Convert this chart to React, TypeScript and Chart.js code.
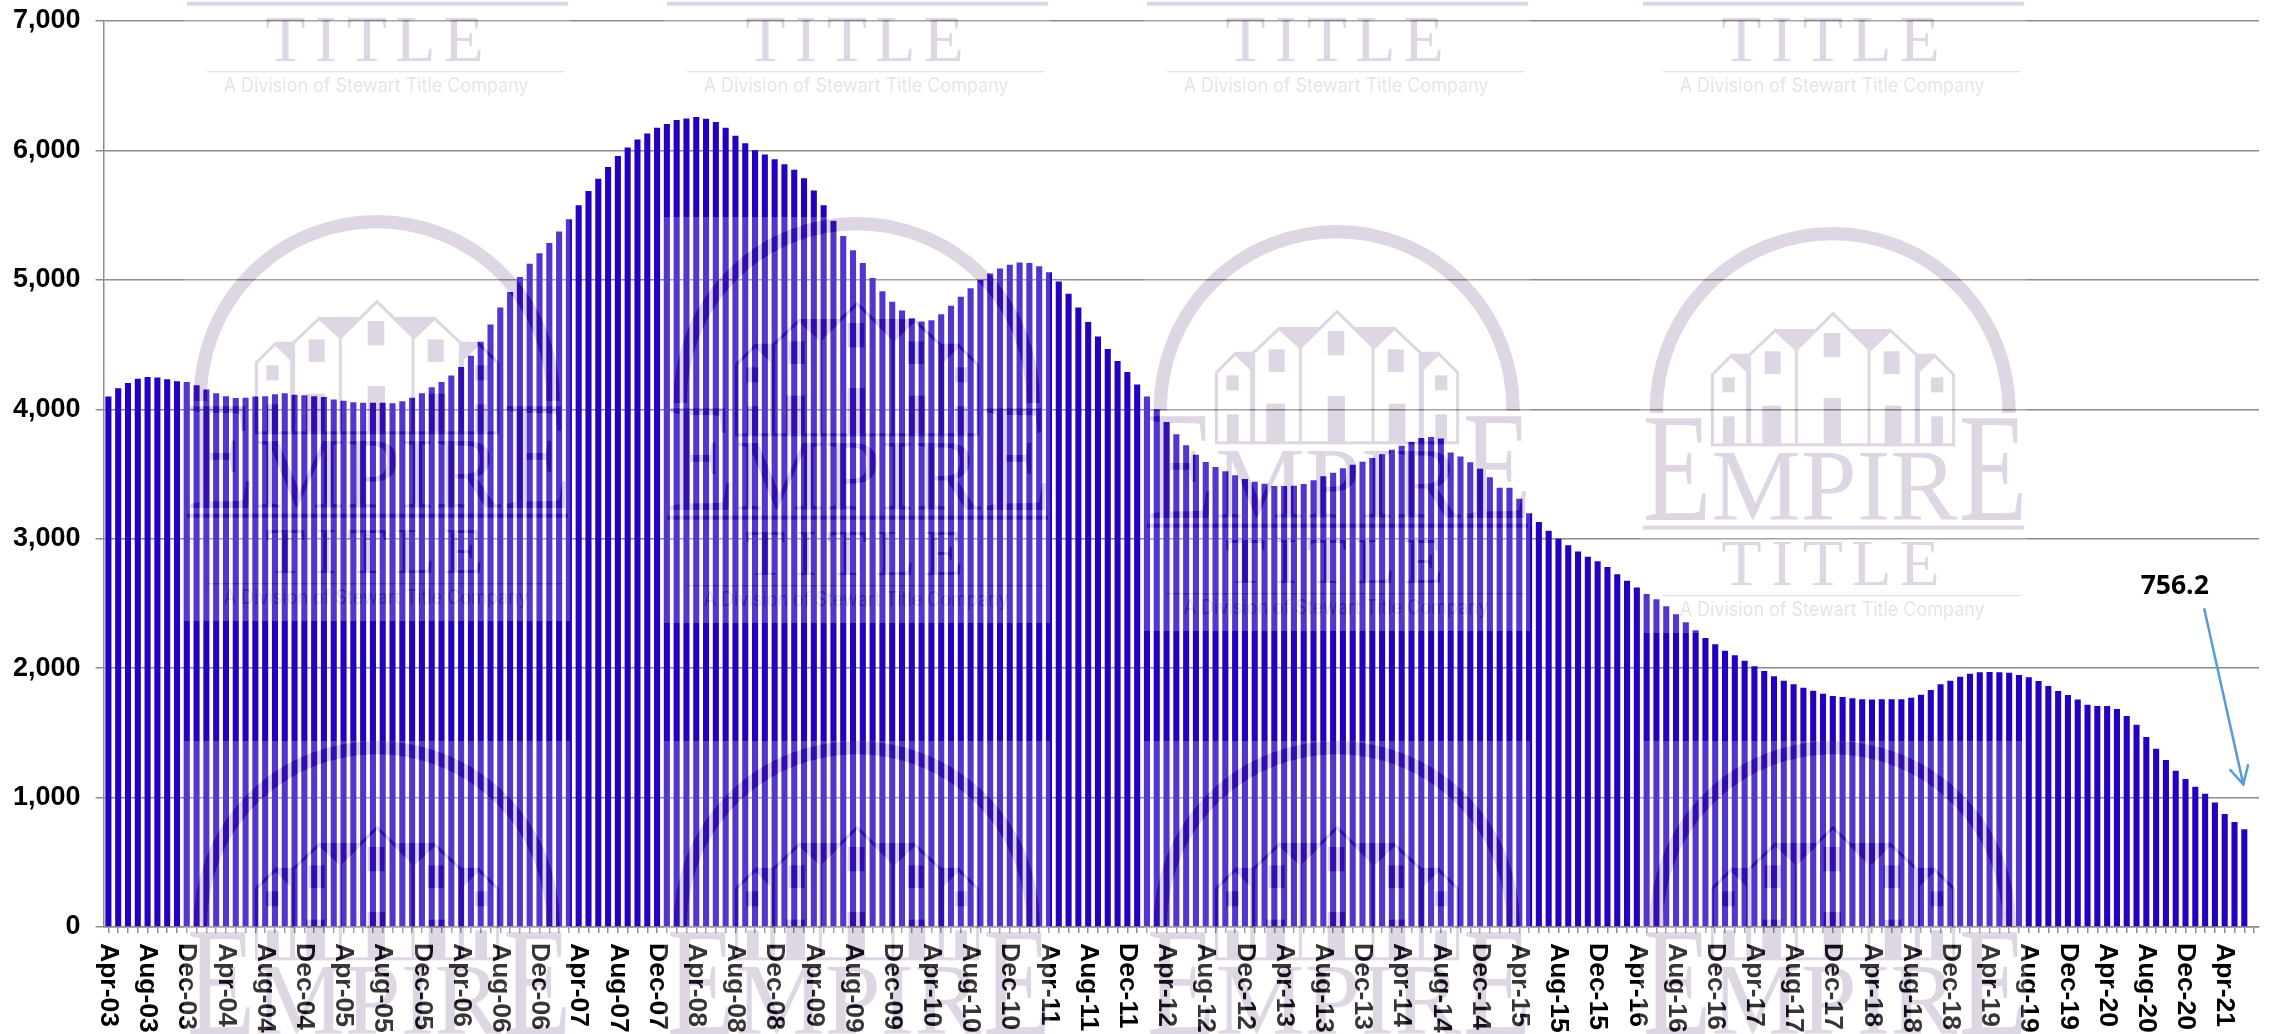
import React, { useEffect, useRef } from "react";
import { Chart, registerables } from "chart.js";

Chart.register(...registerables);

const MONTHS = ["Jan", "Feb", "Mar", "Apr", "May", "Jun", "Jul", "Aug", "Sep", "Oct", "Nov", "Dec"];
const FIRST_YEAR = 2003;
const FIRST_MONTH = 3;
const CATEGORY_COUNT = 220;

const categories: string[] = [];
for (let i = 0; i < CATEGORY_COUNT; i++) {
  const m = FIRST_MONTH + i;
  const yy = (FIRST_YEAR + Math.floor(m / 12)) % 100;
  categories.push(`${MONTHS[m % 12]}-${String(yy).padStart(2, "0")}`);
}

const labelledMonths = ["Apr", "Aug", "Dec"];

const values2003to2008 = [
  4098, 4163, 4203, 4235, 4250, 4246, 4232, 4217, 4210, 4185,
  4152, 4123, 4101, 4087, 4090, 4098, 4101, 4116, 4123, 4112,
  4109, 4101, 4094, 4076, 4065, 4054, 4051, 4051, 4051, 4047,
  4062, 4090, 4123, 4170, 4210, 4261, 4326, 4413, 4522, 4656,
  4786, 4907, 5023, 5124, 5206, 5284, 5374, 5469, 5577, 5686,
  5781, 5871, 5956, 6023, 6085, 6131, 6175, 6204, 6235, 6246,
  6259,
];
const values2008to2014 = [
  6244, 6220, 6176, 6114, 6056, 6001, 5968, 5932, 5894, 5851,
  5786, 5691, 5577, 5456, 5338, 5229, 5131, 5015, 4912, 4830,
  4763, 4704, 4678, 4688, 4735, 4799, 4869, 4936, 4998, 5049,
  5088, 5116, 5134, 5131, 5106, 5059, 4987, 4892, 4786, 4675,
  4562, 4466, 4374, 4289, 4191, 4098, 4000, 3902, 3807, 3722,
  3649, 3593, 3554, 3521, 3490, 3461, 3441, 3425, 3407, 3407,
  3410, 3423, 3451, 3482, 3510, 3544, 3572, 3595, 3624, 3652,
  3688, 3719, 3747, 3778, 3786, 3775, 3667, 3636, 3590, 3541,
  3474,
];
const values2015to2021 = [
  3394, 3394, 3309, 3196, 3130, 3062, 3000, 2949, 2902, 2861,
  2825, 2782, 2725, 2676, 2624, 2573, 2532, 2478, 2416, 2354,
  2292, 2233, 2184, 2135, 2099, 2058, 2014, 1978, 1937, 1903,
  1875, 1849, 1826, 1803, 1785, 1777, 1767, 1759, 1757, 1759,
  1759, 1759, 1772, 1795, 1831, 1875, 1903, 1934, 1957, 1968,
  1970, 1968, 1965, 1947, 1929, 1900, 1862, 1823, 1792, 1757,
  1718, 1707, 1707, 1684, 1630, 1563, 1468, 1378, 1290, 1208,
  1143, 1084, 1030, 961, 873, 811, 756.2,
];
const values = [...values2003to2008, ...values2008to2014, ...values2015to2021];

const yTicks = { min: 0, max: 7000, step: 1000 };

// Annotation anchored in data space: [category index, value]
const arrowFrom = [213.9, 2462];
const arrowTip = [217.9, 1102];
const arrowLegA = [216.5, 1219];
const arrowLegB = [218.4, 1257];
const calloutAt = [210.9, 2632];
const calloutText = "756.2";

// Watermark tile placement
const tileColumns = [
  { cx: 377, rows: [-297, 215, 741] },
  { cx: 857, rows: [-297, 217, 741] },
  { cx: 1337, rows: [-297, 225, 741] },
  { cx: 1833, rows: [-297, 227, 741] },
];
const TILE_W = 386;
const TILE_H = 406;
const TILE_ALPHA = 0.21;
const LOGO = "#693E81";
const LOGO_TEXT = "#808080";

function polyline(c: CanvasRenderingContext2D, pts: number[][], fill = false) {
  c.beginPath();
  pts.forEach(([x, y], i) => (i ? c.lineTo(x, y) : c.moveTo(x, y)));
  if (fill) {
    c.closePath();
    c.fill();
  } else c.stroke();
}

function buildTile(): HTMLCanvasElement {
  const off = document.createElement("canvas");
  off.width = TILE_W;
  off.height = TILE_H;
  const c = off.getContext("2d") as CanvasRenderingContext2D;
  c.fillStyle = "#fff";
  c.fillRect(0, 0, TILE_W, TILE_H);
  c.scale(1 / 3, 1 / 3);
  c.translate(579 - 640, -82);
  c.fillStyle = LOGO;
  c.strokeStyle = LOGO;

  // Arch
  c.lineWidth = 40;
  c.beginPath();
  c.arc(639, 631, 529, Math.PI, 2 * Math.PI);
  c.stroke();
  c.fillRect(90, 631, 40, 9);
  c.fillRect(1148, 631, 40, 9);

  // Houses
  c.lineWidth = 9;
  c.lineJoin = "miter";
  polyline(c, [[278, 735], [278, 525], [335, 468], [384, 515], [384, 735]]);
  polyline(c, [[390, 735], [390, 465], [467, 392], [530, 450], [530, 735]]);
  polyline(c, [[530, 450], [640, 342], [748, 448], [748, 735]]);
  polyline(c, [[752, 450], [812, 392], [890, 465], [890, 735]]);
  polyline(c, [[896, 735], [896, 515], [945, 468], [1002, 525], [1002, 735]]);
  c.fillRect(274, 731, 732, 9);
  polyline(c, [[335, 462], [392, 462], [384, 515]], true);
  polyline(c, [[465, 388], [590, 388], [530, 448]], true);
  polyline(c, [[690, 388], [815, 388], [750, 448]], true);
  polyline(c, [[890, 462], [948, 462], [896, 515]], true);
  // Windows
  c.fillRect(612, 400, 50, 73);
  c.fillRect(435, 455, 48, 68);
  c.fillRect(792, 455, 48, 68);
  c.fillRect(308, 533, 37, 45);
  c.fillRect(934, 533, 37, 45);
  // Doors
  c.fillRect(612, 595, 52, 140);
  c.fillRect(428, 618, 56, 117);
  c.fillRect(795, 618, 50, 117);
  c.fillRect(310, 650, 35, 85);
  c.fillRect(935, 650, 35, 85);

  // EMPIRE
  c.textBaseline = "alphabetic";
  c.textAlign = "left";
  c.font = "466px 'Liberation Serif'";
  c.save();
  c.translate(70, 960);
  c.scale(0.72, 1);
  c.fillText("E", 0, 0);
  c.restore();
  c.save();
  c.translate(1018, 960);
  c.scale(0.72, 1);
  c.fillText("E", 0, 0);
  c.restore();
  c.font = "302px 'Liberation Serif'";
  c.fillText("MPIR", 275, 960);
  c.fillRect(70, 978, 1143, 12);

  // TITLE
  c.font = "198px 'Liberation Serif'";
  c.textAlign = "center";
  [["T", 365], ["I", 487], ["T", 610], ["L", 755], ["E", 900]].forEach(([t, x]) =>
    c.fillText(t as string, x as number, 1155)
  );

  // Division line
  c.fillStyle = LOGO_TEXT;
  c.fillRect(130, 1186, 1075, 4);
  c.font = "400 60px Inter";
  c.textAlign = "left";
  c.fillText("A Division of Stewart Title Company", 180, 1250, 915);
  return off;
}

const watermarkPlugin = {
  id: "watermark",
  afterDraw(chart: any) {
    const { ctx, scales } = chart;
    const pixelForIndex = (n: number) => {
      const lo = Math.floor(n);
      const a = scales.x.getPixelForValue(lo);
      const b = scales.x.getPixelForValue(lo + 1);
      return a + (b - a) * (n - lo);
    };
    const pt = (p: number[]) => [pixelForIndex(p[0]), scales.y.getPixelForValue(p[1])];

    const tile = buildTile();
    ctx.save();
    ctx.globalAlpha = TILE_ALPHA;
    tileColumns.forEach(({ cx, rows }) =>
      rows.forEach((y) => ctx.drawImage(tile, cx - TILE_W / 2, y))
    );
    ctx.restore();

    ctx.save();
    ctx.strokeStyle = "#5B9BD5";
    ctx.lineWidth = 2.5;
    const [fx, fy] = pt(arrowFrom);
    const [tx, ty] = pt(arrowTip);
    const [ax, ay] = pt(arrowLegA);
    const [bx, by] = pt(arrowLegB);
    ctx.beginPath();
    ctx.moveTo(fx, fy);
    ctx.lineTo(tx, ty);
    ctx.moveTo(ax, ay);
    ctx.lineTo(tx, ty);
    ctx.lineTo(bx, by);
    ctx.stroke();
    const [lx, ly] = pt(calloutAt);
    ctx.fillStyle = "#000";
    ctx.font = "bold 26.5px 'Open Sans'";
    ctx.textAlign = "center";
    ctx.textBaseline = "middle";
    ctx.fillText(calloutText, lx, ly);
    ctx.restore();
  },
};

export default function App() {
  const ref = useRef<HTMLCanvasElement>(null);
  useEffect(() => {
    document.body.style.margin = "0";
    document.body.style.background = "#fff";
    const chart = new Chart(ref.current as HTMLCanvasElement, {
      type: "bar",
      data: {
        labels: categories,
        datasets: [
          {
            data: values,
            backgroundColor: "#2400C0",
            barPercentage: 0.62,
            categoryPercentage: 1,
          },
        ],
      },
      plugins: [watermarkPlugin],
      options: {
        responsive: false,
        animation: false,
        devicePixelRatio: 1,
        layout: { padding: { top: 21, right: 16, left: 0, bottom: 0 } },
        plugins: { legend: { display: false }, tooltip: { enabled: false } },
        scales: {
          x: {
            type: "category",
            offset: true,
            grid: {
              offset: false,
              drawOnChartArea: false,
              drawTicks: true,
              tickLength: 6,
              color: "#8c8c8c",
              lineWidth: 1.5,
            },
            border: { color: "#8c8c8c", width: 1.5 },
            ticks: {
              autoSkip: false,
              minRotation: -90,
              maxRotation: -90,
              padding: 10,
              color: "#000",
              font: { family: "'Liberation Sans'", weight: "bold", size: 26.5 },
              callback(this: any, v: any) {
                const label = categories[v];
                return labelledMonths.includes(label.slice(0, 3)) ? label : "";
              },
            },
            afterFit(scale: any) {
              scale.height = 107;
              scale.paddingLeft = 0;
              scale.paddingRight = 0;
              scale._getXAxisLabelAlignment = () => "left";
            },
          },
          y: {
            min: yTicks.min,
            max: yTicks.max,
            grid: { color: "#8c8c8c", lineWidth: 1.5, tickLength: 8 },
            border: { color: "#8c8c8c", width: 1.5 },
            ticks: {
              stepSize: yTicks.step,
              padding: 15,
              color: "#000",
              font: { family: "'Liberation Sans'", weight: "bold", size: 27 },
              callback: (v: any) => Number(v).toLocaleString("en-US"),
            },
            afterFit(scale: any) {
              scale.width = 103.5;
              scale.paddingTop = 0;
              scale.paddingBottom = 0;
            },
          },
        },
      },
    } as any);
    return () => chart.destroy();
  }, []);
  return (
    <div style={{ position: "fixed", left: 0, top: 0, width: 2275, height: 1034 }}>
      <canvas ref={ref} width={2275} height={1034} style={{ display: "block" }} />
    </div>
  );
}
